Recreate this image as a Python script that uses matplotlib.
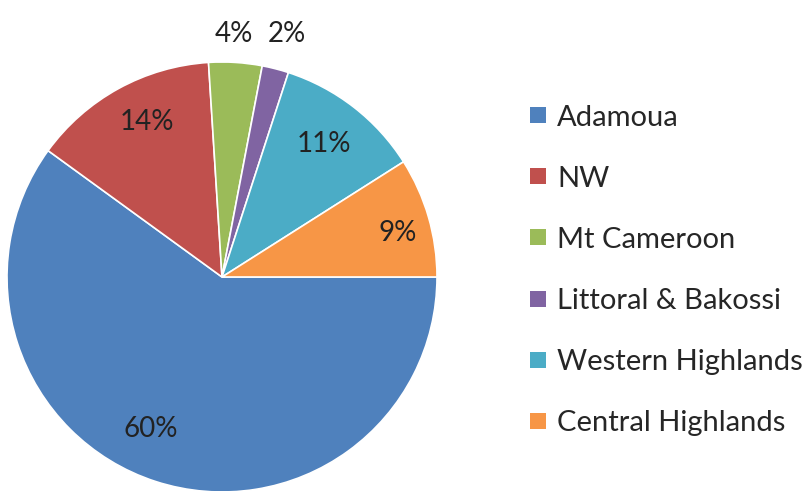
import matplotlib
matplotlib.use("Agg")
import matplotlib.pyplot as plt
import numpy as np

# Share of each region (percent)
regions = ["Adamoua", "NW", "Mt Cameroon", "Littoral & Bakossi",
           "Western Highlands", "Central Highlands"]
shares = [60, 14, 4, 2, 11, 9]
colors = ["#4F81BD", "#C0504D", "#9BBB59", "#8064A2", "#4BACC6", "#F79646"]

# Label placement: (radius fraction, angle in degrees) for each percentage
label_pos = [(0.78, 244.8), (0.80, 115.8), (1.13, 87.3),
             (1.17, 75.0), (0.78, 52.7), (0.84, 14.0)]

plt.rcParams["font.family"] = ["Lato", "DejaVu Sans"]

W, H = 811, 491
fig = plt.figure(figsize=(W / 100, H / 100), dpi=100)
ax = fig.add_axes([0, 0, 1, 1])

cx, cy, R = 222, H - 277, 215
wedges, _ = ax.pie(shares, colors=colors, startangle=0, counterclock=False,
                   center=(cx, cy), radius=R, frame=True,
                   wedgeprops=dict(edgecolor="white", linewidth=1.2))
ax.set_xlim(0, W)
ax.set_ylim(0, H)
ax.axis("off")

for val, (rf, ang) in zip(shares, label_pos):
    t = np.deg2rad(ang)
    ax.text(cx + rf * R * np.cos(t), cy + rf * R * np.sin(t), f"{val}%",
            ha="center", va="center", fontsize=20, color="#222222")

# Legend: colour square plus region name
for i, (name, col) in enumerate(zip(regions, colors)):
    rc = 115 + i * 61.2
    ax.add_patch(plt.Rectangle((530, H - rc - 8), 16, 16, color=col, lw=0))
    ax.text(557, H - rc - 10.5, name, ha="left", va="baseline",
            fontsize=21, color="#262626")

fig.savefig("out.png", dpi=100)
